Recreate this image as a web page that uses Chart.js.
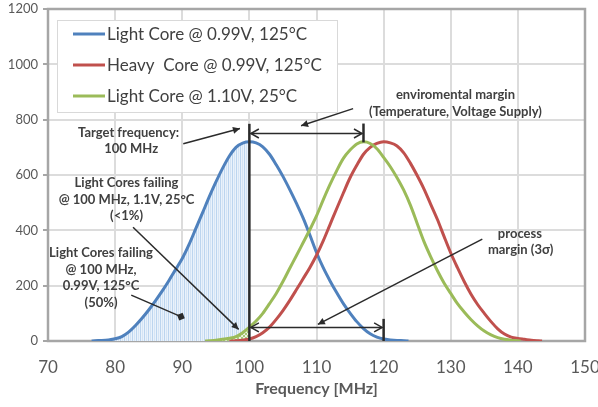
<!DOCTYPE html>
<html><head><meta charset="utf-8">
<script src="https://cdn.jsdelivr.net/npm/chart.js@4/dist/chart.umd.min.js"></script>
<style>html,body{margin:0;padding:0;background:#fff}#wrap{width:598px;height:407px}</style>
</head><body><div id="wrap"><canvas id="c" width="598" height="407"></canvas></div>
<script>
// ---- data ----
const seriesLabels = ['Light Core @ 0.99V, 125°C', 'Heavy  Core @ 0.99V, 125°C', 'Light Core @ 1.10V, 25°C'];
const blueFreq   = [76.5,77,78,79,80,81,82,83,84,85,86,87,88,89,90,91,92,93,94,95,96,97,98,99,100,101,102,103,104,105,106,107,108,109,110,111,112,113,114,115,116,117,118,119,120,121,122,123,123.7];
const blueValues = [0,1,2,4,8,16,32,55,82,112,145,180,218,258,298,348,405,462,520,574,624,668,700,715,720,716,702,675,637,595,548,498,445,384,320,265,218,175,135,101,70,45,26,14,7,4,2,1,0];
const redFreq    = [97,98,99,100,101,102,103,104,105,106,107,108,109,110,111,112,113,114,115,116,117,118,119,120,121,122,123,124,125,126,127,128,129,130,131,132,133,134,135,136,137,138,139,140,141,142,143,143.6];
const redValues  = [0,1,3,7,16,30,50,78,110,146,185,225,265,310,362,420,478,535,590,635,675,700,714,720,716,705,680,642,598,550,495,440,378,318,265,215,170,132,100,70,44,25,14,9,6,3,1,0];
const greenFreq  = [93.4,94,95,96,97,98,99,100,101,102,103,104,105,106,107,108,109,110,111,112,113,114,115,116,117,118,119,120,121,122,123,124,125,126,127,128,129,130,131,132,133,134,135,136,137,138,139,140,140.4];
const greenValues= [0,1,3,6,10,16,30,50,72,100,135,172,215,262,308,355,402,452,510,565,615,660,690,712,720,714,695,664,630,590,545,490,425,360,305,255,210,172,135,105,78,55,36,22,12,6,3,1,0];
const xTicks = [70,80,90,100,110,120,130,140,150];
const yTicks = [0,200,400,600,800,1000,1200];
const targetFrequency = 100;

const colors = ['#4F81BD','#C0504D','#9BBB59'];

function pts(fx, vy, maxX){ const o=[]; for(let i=0;i<fx.length;i++){ if(maxX===undefined||fx[i]<=maxX) o.push({x:fx[i],y:vy[i]}); } return o; }

function stripePattern(){
  const c=document.createElement('canvas'); c.width=4; c.height=4;
  const g=c.getContext('2d');
  g.fillStyle='#eaf2fb'; g.fillRect(0,0,4,4);
  g.fillStyle='#bcd5ef'; g.fillRect(0,0,1,4);
  g.fillStyle='#d4e4f5'; g.fillRect(2,0,1,4);
  return g.createPattern(c,'repeat');
}
function hatchPattern(){
  const c=document.createElement('canvas'); c.width=4; c.height=4;
  const g=c.getContext('2d');
  g.fillStyle='#eef5e4'; g.fillRect(0,0,4,4);
  g.fillStyle='#a9c97a';
  g.fillRect(0,0,1,1); g.fillRect(1,1,1,1); g.fillRect(2,2,1,1); g.fillRect(3,3,1,1);
  g.fillRect(3,0,1,1); g.fillRect(2,1,1,1); g.fillRect(1,2,1,1); g.fillRect(0,3,1,1);
  return g.createPattern(c,'repeat');
}

const TXT='#404040', ARW='#2b2b2b';
const FONT="'Lato','Liberation Sans',sans-serif";

function arrowHead(ctx, x1,y1,x2,y2, len, half, filled){
  const a=Math.atan2(y2-y1,x2-x1);
  const p1=[x2-len*Math.cos(a)+half*Math.sin(a), y2-len*Math.sin(a)-half*Math.cos(a)];
  const p2=[x2-len*Math.cos(a)-half*Math.sin(a), y2-len*Math.sin(a)+half*Math.cos(a)];
  ctx.beginPath(); ctx.moveTo(p1[0],p1[1]); ctx.lineTo(x2,y2); ctx.lineTo(p2[0],p2[1]);
  if(filled){ ctx.closePath(); ctx.fill(); } else ctx.stroke();
}

const annot = {
  id:'annot',
  beforeDatasetsDraw(chart){
    const {ctx, scales:{x,y}}=chart;
    ctx.save(); ctx.strokeStyle='#a6a6a6'; ctx.lineWidth=2.5;
    ctx.strokeRect(x.left,y.top,x.right-x.left,y.bottom-y.top); ctx.restore();
  },
  afterDatasetsDraw(chart){
    const {ctx, scales:{x,y}}=chart;
    const X=v=>x.getPixelForValue(v), Y=v=>y.getPixelForValue(v);
    ctx.save();
    ctx.strokeStyle=ARW; ctx.fillStyle=ARW; ctx.lineCap='butt';
    ctx.lineWidth=2.5;
    ctx.beginPath(); ctx.moveTo(X(targetFrequency),Y(0)); ctx.lineTo(X(targetFrequency),Y(785)); ctx.stroke();
    ctx.beginPath(); ctx.moveTo(X(117),Y(718)); ctx.lineTo(X(117),Y(786)); ctx.stroke();
    ctx.beginPath(); ctx.moveTo(X(120),Y(0)); ctx.lineTo(X(120),Y(80)); ctx.stroke();
    ctx.lineWidth=1.5;
    const dbl=(xa,xb,yv)=>{
      const y0=Y(yv), xa0=X(xa)+1.5, xb0=X(xb)-1.5;
      ctx.beginPath(); ctx.moveTo(xa0,y0); ctx.lineTo(xb0,y0); ctx.stroke();
      arrowHead(ctx,xb0,y0,xa0,y0,8,4.5,false);
      arrowHead(ctx,xa0,y0,xb0,y0,8,4.5,false);
    };
    dbl(100,117,750);
    dbl(100,120,49);
    const ptr=(fx,fy,tx,ty,end)=>{
      const x1=X(fx),y1=Y(fy),x2=X(tx),y2=Y(ty);
      ctx.beginPath(); ctx.moveTo(x1,y1); ctx.lineTo(x2,y2); ctx.stroke();
      if(end==='sq'){ ctx.save(); ctx.translate(x2,y2); ctx.rotate(Math.atan2(y2-y1,x2-x1)+Math.PI/4); ctx.fillRect(-3,-3,6,6); ctx.restore(); }
      else arrowHead(ctx,x1,y1,x2,y2,7,3.5,true);
    };
    ptr(90.15,713,98.6,768);
    ptr(115.45,840,107.7,778);
    ptr(82.67,411,98.4,42);
    ptr(82.4,166,89.8,88,'sq');
    ptr(134.7,368,110.2,60);
    ctx.fillStyle=TXT; ctx.font='bold 13px '+FONT; ctx.textAlign='center'; ctx.textBaseline='middle';
    const t=(s,fx,fy)=>ctx.fillText(s,X(fx),Y(fy));
    t('Target frequency:',82.0,753); t('100 MHz',82.4,694);
    t('Light Cores failing',81.7,573); t('@ 100 MHz, 1.1V, 25°C',81.7,512); t('(<1%)',81.7,454);
    t('Light Cores failing',77.9,318); t('@ 100 MHz,',77.9,259); t('0.99V, 125°C',77.9,198); t('(50%)',77.9,138);
    t('enviromental margin',130.7,890); t('(Temperature, Voltage Supply)',130.7,829);
    t('process',140.3,389); t('margin (3σ)',140.4,328);
    // legend
    const lx=x.left+9, ly=y.top+11;
    ctx.fillStyle='#fff'; ctx.fillRect(lx,ly,280,92);
    ctx.strokeStyle='#d9d9d9'; ctx.lineWidth=1; ctx.strokeRect(lx+0.5,ly+0.5,280,92);
    ctx.font='17px '+FONT; ctx.textAlign='left';
    for(let i=0;i<3;i++){
      const cy=ly+14+i*31;
      ctx.strokeStyle=colors[i]; ctx.lineWidth=3;
      ctx.beginPath(); ctx.moveTo(lx+16,cy); ctx.lineTo(lx+48,cy); ctx.stroke();
      ctx.fillStyle=TXT; ctx.fillText(seriesLabels[i],lx+50,cy+1);
    }
    ctx.restore();
  }
};

const lineDs=(i,fx,vy)=>({label:seriesLabels[i],data:pts(fx,vy),showLine:true,borderColor:colors[i],borderWidth:3,pointRadius:0,fill:false,cubicInterpolationMode:'monotone',order:3-i});

new Chart(document.getElementById('c'),{
  type:'scatter',
  data:{datasets:[
    {label:'fill1',data:pts(blueFreq,blueValues,targetFrequency),showLine:true,borderWidth:0,borderColor:'rgba(0,0,0,0)',backgroundColor:stripePattern(),fill:'origin',pointRadius:0,cubicInterpolationMode:'monotone',order:10},
    {label:'fill2',data:pts(greenFreq,greenValues,targetFrequency),showLine:true,borderWidth:0,borderColor:'rgba(0,0,0,0)',backgroundColor:hatchPattern(),fill:'origin',pointRadius:0,cubicInterpolationMode:'monotone',order:9},
    lineDs(0,blueFreq,blueValues),
    lineDs(1,redFreq,redValues),
    lineDs(2,greenFreq,greenValues)
  ]},
  options:{
    responsive:false, animation:false, devicePixelRatio:1,
    layout:{padding:{left:0,right:13,top:9,bottom:0}},
    plugins:{legend:{display:false},tooltip:{enabled:false}},
    scales:{
      x:{type:'linear',min:xTicks[0],max:xTicks[xTicks.length-1],
         afterBuildTicks:s=>{s.ticks=xTicks.map(v=>({value:v}));},
         afterFit:s=>{s.height=66; s.paddingLeft=0; s.paddingRight=0;},
         grid:{color:'#dcdcdc',lineWidth:2,drawTicks:false},
         border:{display:false},
         ticks:{padding:16,color:'#595959',font:{family:FONT,size:17},callback:v=>String(v),maxRotation:0,minRotation:0},
         title:{display:true,text:'Frequency [MHz]',color:'#595959',font:{family:FONT,size:16,weight:'bold'},padding:{top:6,bottom:9}}},
      y:{type:'linear',min:yTicks[0],max:yTicks[yTicks.length-1],
         afterBuildTicks:s=>{s.ticks=yTicks.map(v=>({value:v}));},
         afterFit:s=>{s.width=48; s.paddingTop=0; s.paddingBottom=0;},
         grid:{color:'#dcdcdc',lineWidth:2,tickLength:5,tickColor:'#a6a6a6'},
         border:{display:false},
         ticks:{padding:5,color:'#595959',font:{family:FONT,size:13},callback:v=>String(v)}}
    }
  },
  plugins:[annot]
});
</script></body></html>
